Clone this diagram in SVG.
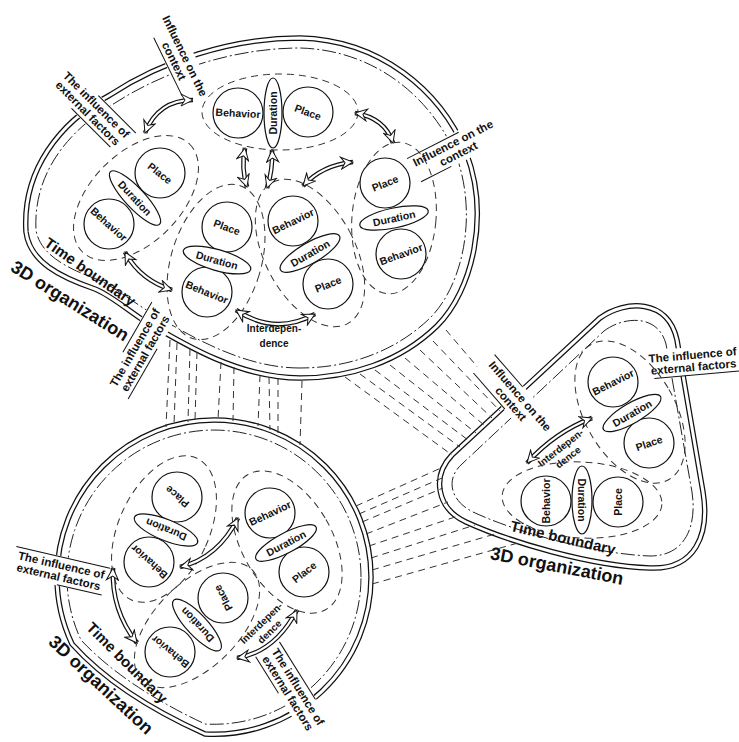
<svg xmlns="http://www.w3.org/2000/svg" width="739" height="742" viewBox="0 0 739 742">
<defs>
<style>
.db{fill:none;stroke:#111;stroke-width:5.5}
.dw{fill:none;stroke:#fff;stroke-width:3}
.dd{fill:none;stroke:#222;stroke-width:1;stroke-dasharray:14 3 2 3}
.grp{fill:none;stroke:#333;stroke-width:1;stroke-dasharray:7 5}
.node{fill:#fff;stroke:#111;stroke-width:1.2}
.lbl{font-family:"Liberation Sans",Arial,sans-serif;font-weight:bold;font-size:10.5px;fill:#111;text-anchor:middle;dominant-baseline:central}
.ann{font-family:"Liberation Sans",Arial,sans-serif;font-weight:bold;font-size:11.5px;fill:#111;text-anchor:middle}
.inter{font-family:"Liberation Sans",Arial,sans-serif;font-weight:bold;font-size:10px;fill:#111;text-anchor:middle}
.tb{font-family:"Liberation Sans",Arial,sans-serif;font-weight:bold;font-size:15px;fill:#111;text-anchor:middle}
.big{font-family:"Liberation Sans",Arial,sans-serif;font-weight:bold;font-size:18px;fill:#111;text-anchor:middle}
.ab{fill:none;stroke:#111;stroke-width:4.6}
.aw{fill:none;stroke:#fff;stroke-width:2.2}
.link{fill:none;stroke:#333;stroke-width:1;stroke-dasharray:7 5}
.rule{stroke:#111;stroke-width:1}
.box{fill:#fff}
</style>
<marker id="ah" viewBox="0 0 14 14" refX="13" refY="7" markerWidth="14" markerHeight="14" markerUnits="userSpaceOnUse" orient="auto-start-reverse">
<path d="M1,1 L13,7 L1,13 L5,7 Z" fill="#fff" stroke="#111" stroke-width="1"/>
</marker>
</defs>
<rect width="739" height="742" fill="#fff"/>

<!-- boundaries -->
<g id="boundaries">
<g id="top-org">
<path id="top-outer" class="db" d="M300,378 C240,378 185,345 143,320 C125,308 110,295 95,289 C60,277 30,262 26,232 C22,170 60,122 110,95 C160,62 230,38 300,38 C380,40 440,90 466,152 C490,215 473,290 437,326 C400,362 350,378 300,378 Z"/>
<path class="dw" d="M300,378 C240,378 185,345 143,320 C125,308 110,295 95,289 C60,277 30,262 26,232 C22,170 60,122 110,95 C160,62 230,38 300,38 C380,40 440,90 466,152 C490,215 473,290 437,326 C400,362 350,378 300,378 Z"/>
<path class="dd" d="M300,368 C243,368 190,336 148,311 C129,299 114,287 99,280 C68,269 40,255 36,230 C33,174 68,130 115,103 C163,72 232,48 300,48 C374,50 430,96 456,155 C478,215 463,285 430,318 C395,352 348,368 300,368 Z"/>
</g>
<g id="tri-org">
<path class="db" d="M600,318 C625,300 668,298 677,340 L703,492 C710,535 695,570 650,568 C590,566 510,542 466,522 C436,508 432,476 452,455 Z"/>
<path class="dw" d="M600,318 C625,300 668,298 677,340 L703,492 C710,535 695,570 650,568 C590,566 510,542 466,522 C436,508 432,476 452,455 Z"/>
<path class="dd" d="M604,331 C624,316 658,314 666,344 L692,492 C697,525 686,556 650,556 C594,554 516,532 473,512 C449,500 446,478 462,464 Z"/>
</g>
<g id="bot-org">
<path class="db" d="M371,577 A157,157 0 0 0 57,577 A157,157 0 0 0 72,644 Q118,695 205,734 A157,157 0 0 0 371,577 Z"/>
<path class="dw" d="M371,577 A157,157 0 0 0 57,577 A157,157 0 0 0 72,644 Q118,695 205,734 A157,157 0 0 0 371,577 Z"/>
<path class="dd" d="M361,577 A147,147 0 0 0 67,577 A147,147 0 0 0 81,640 Q124,686 205,724 A147,147 0 0 0 361,577 Z"/>
</g>
</g>

<!-- connectors -->
<g id="connectors">
<g id="links-top-bottom">
<line class="link" x1="170" y1="340" x2="166" y2="427"/>
<line class="link" x1="177" y1="343" x2="174" y2="425"/>
<line class="link" x1="190" y1="349" x2="188" y2="422"/>
<line class="link" x1="197" y1="352" x2="195" y2="421"/>
<line class="link" x1="221" y1="362" x2="218" y2="420"/>
<line class="link" x1="234" y1="367" x2="233" y2="421"/>
<line class="link" x1="260" y1="375" x2="258" y2="426"/>
<line class="link" x1="269" y1="377" x2="270" y2="430"/>
<line class="link" x1="278" y1="378" x2="278" y2="433"/>
<line class="link" x1="302" y1="381" x2="300" y2="445"/>
</g>
<g id="links-top-tri">
<line class="link" x1="345" y1="377" x2="452" y2="455"/>
<line class="link" x1="360" y1="374" x2="460" y2="447"/>
<line class="link" x1="375" y1="370" x2="468" y2="440"/>
<line class="link" x1="390" y1="365" x2="476" y2="433"/>
<line class="link" x1="405" y1="358" x2="484" y2="425"/>
<line class="link" x1="420" y1="350" x2="492" y2="418"/>
<line class="link" x1="433" y1="341" x2="500" y2="411"/>
<line class="link" x1="446" y1="330" x2="508" y2="403"/>
</g>
<g id="links-bottom-tri">
<line class="link" x1="356" y1="506" x2="441" y2="468"/>
<line class="link" x1="359" y1="514" x2="442" y2="478"/>
<line class="link" x1="362" y1="522" x2="443" y2="488"/>
<line class="link" x1="366" y1="534" x2="448" y2="502"/>
<line class="link" x1="369" y1="546" x2="458" y2="516"/>
<line class="link" x1="371" y1="558" x2="475" y2="525"/>
<line class="link" x1="372" y1="570" x2="495" y2="534"/>
<line class="link" x1="372" y1="584" x2="518" y2="543"/>
</g>
</g>

<!-- labels -->
<g id="labels">
<g id="lbl-t-context1" transform="translate(179.5,58.5) rotate(64)">
<rect class="box" x="-50" y="-15" width="100" height="30"/>
<text class="ann" y="-2">Influence on the</text>
<text class="ann" y="10">context</text>
<line class="rule" x1="-30" y1="14" x2="35" y2="14"/>
</g>
<g id="lbl-t-ext1" transform="translate(92,109) rotate(45)">
<rect class="box" x="-50" y="-15" width="100" height="30"/>
<line class="rule" x1="-5" y1="-14" x2="48" y2="-14"/>
<text class="ann" y="-2">The influence of</text>
<text class="ann" y="10">external factors</text>
<line class="rule" x1="-15" y1="14" x2="40" y2="14"/>
</g>
<g id="lbl-t-context2" transform="translate(455.7,148.4) rotate(-27)">
<rect class="box" x="-50" y="-15" width="100" height="30"/>
<line class="rule" x1="-48" y1="-13" x2="10" y2="-13"/>
<text class="ann" y="-2">Influence on the</text>
<text class="ann" y="10">context</text>
<line class="rule" x1="-46" y1="14" x2="-12" y2="14"/>
</g>
<g id="lbl-t-ext2" transform="translate(140,350.5) rotate(-60)">
<rect class="box" x="-50" y="-15" width="100" height="30"/>
<line class="rule" x1="-10" y1="-14" x2="48" y2="-14"/>
<text class="ann" y="-2">The influence of</text>
<text class="ann" y="10">external factors</text>
<line class="rule" x1="-48" y1="14" x2="10" y2="14"/>
</g>
<text class="tb" transform="translate(90,272) rotate(35)" y="5">Time boundary</text>
<text class="big" transform="translate(70,301) rotate(32)" y="6">3D organization</text>

<g id="lbl-r-context" transform="translate(515.5,400) rotate(49)">
<rect class="box" x="-50" y="-15" width="100" height="30"/>
<line class="rule" x1="-48" y1="-14" x2="-5" y2="-14"/>
<text class="ann" y="-2">Influence on the</text>
<text class="ann" y="10">context</text>
<line class="rule" x1="-48" y1="14" x2="0" y2="14"/>
</g>
<g id="lbl-r-ext" transform="translate(693,361) rotate(-5)">
<rect class="box" x="-49" y="-14" width="98" height="28"/>
<text class="ann" y="-2">The influence of</text>
<text class="ann" y="10">external factors</text>
<line class="rule" x1="-40" y1="14" x2="46" y2="14"/>
</g>
<text class="tb" transform="translate(563,538) rotate(13)" y="5">Time boundary</text>
<text class="big" transform="translate(557,566) rotate(11)" y="6">3D organization</text>

<g id="lbl-b-ext1" transform="translate(60,571) rotate(13)">
<rect class="box" x="-50" y="-15" width="100" height="30"/>
<line class="rule" x1="-48" y1="-14" x2="48" y2="-14"/>
<text class="ann" y="-2">The influence of</text>
<text class="ann" y="10">external factors</text>
<line class="rule" x1="0" y1="14" x2="46" y2="14"/>
</g>
<g id="lbl-b-ext2" transform="translate(293,690) rotate(58)">
<rect class="box" x="-50" y="-15" width="100" height="30"/>
<line class="rule" x1="-48" y1="-14" x2="20" y2="-14"/>
<text class="ann" y="-2">The influence of</text>
<text class="ann" y="10">external factors</text>
<line class="rule" x1="-48" y1="14" x2="-5" y2="14"/>
</g>
<text class="tb" transform="translate(127,663) rotate(45)" y="5">Time boundary</text>
<text class="big" transform="translate(101,685) rotate(43)" y="6">3D organization</text>

<text class="inter" x="274" y="332">Interdepen-</text>
<text class="inter" x="274" y="347">dence</text>
<g transform="translate(564,452) rotate(-38)">
<text class="inter" y="-2">Interdepen-</text>
<text class="inter" y="10">dence</text>
</g>
<g transform="translate(265,627) rotate(-44)">
<text class="inter" y="-2">Interdepen-</text>
<text class="inter" y="10">dence</text>
</g>
</g>

<!-- group boundaries -->
<g id="clusters">
<ellipse class="grp" cx="280" cy="112" rx="78" ry="38"/>
<ellipse class="grp" cx="136" cy="198" rx="76" ry="45" transform="rotate(-45 136 198)"/>
<ellipse class="grp" cx="216" cy="262" rx="45" ry="80" transform="rotate(17 216 262)"/>
<ellipse class="grp" cx="310" cy="253" rx="45" ry="80" transform="rotate(-28 310 253)"/>
<ellipse class="grp" cx="394" cy="218" rx="42" ry="76" transform="rotate(5 394 218)"/>
<ellipse class="grp" cx="630" cy="412" rx="45" ry="78" transform="rotate(-30 630 412)"/>
<ellipse class="grp" cx="582" cy="500" rx="80" ry="38" transform="rotate(3 582 500)"/>
<ellipse class="grp" cx="164" cy="529" rx="45" ry="78" transform="rotate(25 164 529)"/>
<ellipse class="grp" cx="287" cy="542" rx="45" ry="78" transform="rotate(-30 287 542)"/>
<ellipse class="grp" cx="197" cy="625" rx="78" ry="42" transform="rotate(-45 197 625)"/>
</g>

<!-- arrows -->
<g id="arrows">
<g id="arr-t1"><path class="ab" d="M193,100 Q158,100 145,133"/><path class="aw" d="M193,100 Q158,100 145,133" marker-start="url(#ah)" marker-end="url(#ah)"/></g>
<g id="arr-t2"><path class="ab" d="M355,113 Q385,118 393,143"/><path class="aw" d="M355,113 Q385,118 393,143" marker-start="url(#ah)" marker-end="url(#ah)"/></g>
<g id="arr-t3"><path class="ab" d="M245,148 Q241,168 247,187"/><path class="aw" d="M245,148 Q241,168 247,187" marker-start="url(#ah)" marker-end="url(#ah)"/></g>
<g id="arr-t4"><path class="ab" d="M272,150 Q273,170 267,188"/><path class="aw" d="M272,150 Q273,170 267,188" marker-start="url(#ah)" marker-end="url(#ah)"/></g>
<g id="arr-t5"><path class="ab" d="M303,186 Q322,165 353,162"/><path class="aw" d="M303,186 Q322,165 353,162" marker-start="url(#ah)" marker-end="url(#ah)"/></g>
<g id="arr-t6"><path class="ab" d="M125,252 Q140,280 172,290"/><path class="aw" d="M125,252 Q140,280 172,290" marker-start="url(#ah)" marker-end="url(#ah)"/></g>
<g id="arr-t7"><path class="ab" d="M236,310 Q275,336 315,314"/><path class="aw" d="M236,310 Q275,336 315,314" marker-start="url(#ah)" marker-end="url(#ah)"/></g>
<g id="arr-r1"><path class="ab" d="M527,463 Q555,432 592,418"/><path class="aw" d="M527,463 Q555,432 592,418" marker-start="url(#ah)" marker-end="url(#ah)"/></g>
<g id="arr-b1"><path class="ab" d="M180,567 Q218,558 238,518"/><path class="aw" d="M180,567 Q218,558 238,518" marker-start="url(#ah)" marker-end="url(#ah)"/></g>
<g id="arr-b2"><path class="ab" d="M113,568 Q111,610 137,643"/><path class="aw" d="M113,568 Q111,610 137,643" marker-start="url(#ah)" marker-end="url(#ah)"/></g>
<g id="arr-b3"><path class="ab" d="M237,658 Q275,652 297,610"/><path class="aw" d="M237,658 Q275,652 297,610" marker-start="url(#ah)" marker-end="url(#ah)"/></g>
</g>

<!-- nodes: top organization -->
<g id="t-a-behavior"><circle class="node" cx="238" cy="113" r="25"/><text class="lbl" transform="translate(238,113) rotate(3)">Behavior</text></g>
<g id="t-a-place"><circle class="node" cx="308" cy="112" r="25"/><text class="lbl" transform="translate(308,112) rotate(20)">Place</text></g>
<g id="t-a-duration"><ellipse class="node" cx="273" cy="113" rx="9" ry="35"/><text class="lbl" transform="translate(273,113) rotate(-90)">Duration</text></g>

<g id="t-b-place"><circle class="node" cx="160" cy="173" r="25"/><text class="lbl" transform="translate(160,173) rotate(38)">Place</text></g>
<g id="t-b-behavior"><circle class="node" cx="109" cy="224" r="25"/><text class="lbl" transform="translate(109,224) rotate(42)">Behavior</text></g>
<g id="t-b-duration"><ellipse class="node" cx="135" cy="198" rx="36" ry="10" transform="rotate(47 135 198)"/><text class="lbl" transform="translate(135,198) rotate(47)">Duration</text></g>

<g id="t-c-place"><circle class="node" cx="227" cy="227" r="25"/><text class="lbl" transform="translate(227,227) rotate(20)">Place</text></g>
<g id="t-c-behavior"><circle class="node" cx="207" cy="292" r="25"/><text class="lbl" transform="translate(207,292) rotate(22)">Behavior</text></g>
<g id="t-c-duration"><ellipse class="node" cx="217" cy="260" rx="35" ry="10.5" transform="rotate(16 217 260)"/><text class="lbl" transform="translate(217,260) rotate(16)">Duration</text></g>

<g id="t-d-behavior"><circle class="node" cx="293" cy="221" r="25"/><text class="lbl" transform="translate(293,221) rotate(-26)">Behavior</text></g>
<g id="t-d-place"><circle class="node" cx="328" cy="284" r="25"/><text class="lbl" transform="translate(328,284) rotate(-22)">Place</text></g>
<g id="t-d-duration"><ellipse class="node" cx="310" cy="253" rx="34" ry="10.5" transform="rotate(-30 310 253)"/><text class="lbl" transform="translate(310,253) rotate(-30)">Duration</text></g>

<g id="t-e-place"><circle class="node" cx="385" cy="183" r="25"/><text class="lbl" transform="translate(385,183) rotate(-22)">Place</text></g>
<g id="t-e-behavior"><circle class="node" cx="401" cy="254" r="25"/><text class="lbl" transform="translate(401,254) rotate(-20)">Behavior</text></g>
<g id="t-e-duration"><ellipse class="node" cx="394" cy="218" rx="35" ry="10" transform="rotate(-12 394 218)"/><text class="lbl" transform="translate(394,218) rotate(-12)">Duration</text></g>

<!-- nodes: triangle organization -->
<g id="r-a-behavior"><circle class="node" cx="613" cy="382" r="25"/><text class="lbl" transform="translate(613,382) rotate(-27)">Behavior</text></g>
<g id="r-a-place"><circle class="node" cx="649" cy="443" r="25"/><text class="lbl" transform="translate(649,443) rotate(-19)">Place</text></g>
<g id="r-a-duration"><ellipse class="node" cx="632" cy="413" rx="33" ry="10" transform="rotate(-30 632 413)"/><text class="lbl" transform="translate(632,413) rotate(-30)">Duration</text></g>
<g id="r-b-behavior"><circle class="node" cx="546" cy="501" r="25"/><text class="lbl" transform="translate(546,501) rotate(-90)">Behavior</text></g>
<g id="r-b-place"><circle class="node" cx="618" cy="502" r="25"/><text class="lbl" transform="translate(618,502) rotate(-90)">Place</text></g>
<g id="r-b-duration"><ellipse class="node" cx="582" cy="500" rx="10" ry="34"/><text class="lbl" transform="translate(582,500) rotate(90)">Duration</text></g>

<!-- nodes: bottom organization -->
<g id="b-a-place"><circle class="node" cx="177" cy="497" r="25"/><text class="lbl" transform="translate(177,497) rotate(220)">Place</text></g>
<g id="b-a-behavior"><circle class="node" cx="149" cy="562" r="25"/><text class="lbl" transform="translate(149,562) rotate(222)">Behavior</text></g>
<g id="b-a-duration"><ellipse class="node" cx="166" cy="530" rx="34" ry="10.5" transform="rotate(22 166 530)"/><text class="lbl" transform="translate(166,530) rotate(202)">Duration</text></g>

<g id="b-b-behavior"><circle class="node" cx="270" cy="513" r="25"/><text class="lbl" transform="translate(270,513) rotate(-25)">Behavior</text></g>
<g id="b-b-place"><circle class="node" cx="304" cy="572" r="25"/><text class="lbl" transform="translate(304,572) rotate(-38)">Place</text></g>
<g id="b-b-duration"><ellipse class="node" cx="286" cy="543" rx="34" ry="10" transform="rotate(-28 286 543)"/><text class="lbl" transform="translate(286,543) rotate(-28)">Duration</text></g>

<g id="b-c-place"><circle class="node" cx="223" cy="598" r="25"/><text class="lbl" transform="translate(223,598) rotate(242)">Place</text></g>
<g id="b-c-behavior"><circle class="node" cx="170" cy="652" r="25"/><text class="lbl" transform="translate(170,652) rotate(219)">Behavior</text></g>
<g id="b-c-duration"><ellipse class="node" cx="197" cy="625" rx="34" ry="10.5" transform="rotate(47 197 625)"/><text class="lbl" transform="translate(197,625) rotate(227)">Duration</text></g>
</svg>
